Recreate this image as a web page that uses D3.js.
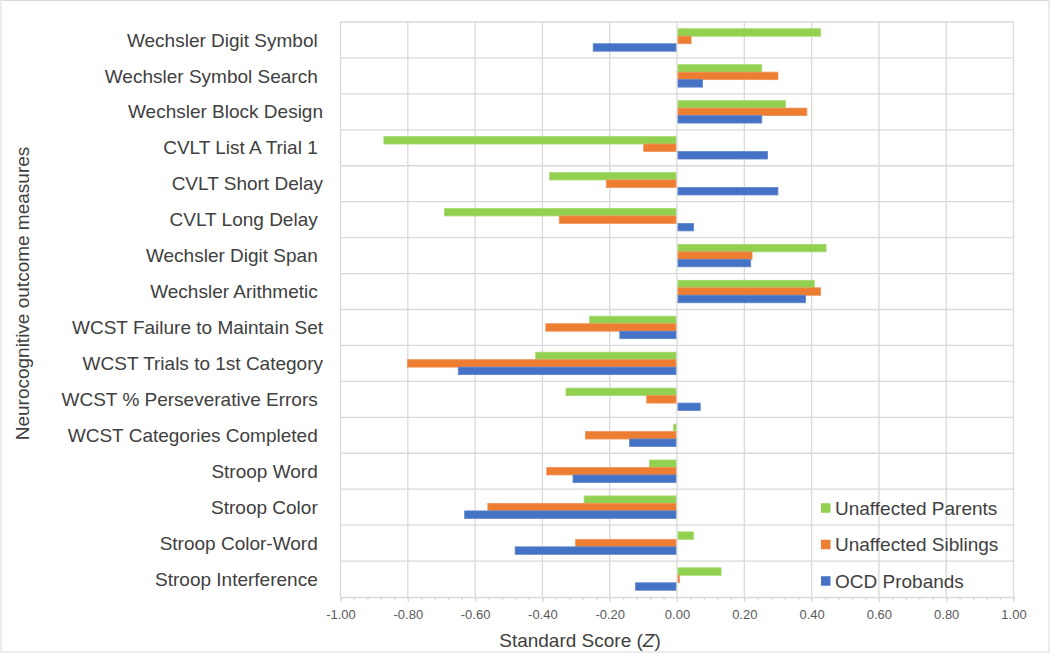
<!DOCTYPE html>
<html>
<head>
<meta charset="utf-8">
<script src="https://cdn.jsdelivr.net/npm/d3@7"></script>
<style>
  html, body { margin: 0; padding: 0; background: #fff; }
  svg { display: block; font-family: Arial, "Liberation Sans", sans-serif; }
  .cat { white-space: pre; }
</style>
</head>
<body>
<svg id="chart" width="1050" height="654"></svg>
<script>
// ---- data ----
const categories = [
  "Wechsler Digit Symbol ",
  "Wechsler Symbol Search ",
  "Wechsler Block Design",
  "CVLT List A Trial 1 ",
  "CVLT Short Delay",
  "CVLT Long Delay ",
  "Wechsler Digit Span ",
  "Wechsler Arithmetic ",
  "WCST Failure to Maintain Set",
  "WCST Trials to 1st Category",
  "WCST % Perseverative Errors ",
  "WCST Categories Completed ",
  "Stroop Word ",
  "Stroop Color ",
  "Stroop Color-Word ",
  "Stroop Interference "
];
const seriesNames = ["Unaffected Parents", "Unaffected Siblings", "OCD Probands"];
const parents  = [0.427, 0.252, 0.322, -0.871, -0.379, -0.691, 0.443, 0.408, -0.260, -0.420, -0.330, -0.010, -0.082, -0.276, 0.049, 0.131];
const siblings = [0.042, 0.300, 0.386, -0.099, -0.210, -0.350, 0.223, 0.427, -0.390, -0.801, -0.090, -0.272, -0.387, -0.562, -0.301, 0.007];
const probands = [-0.249, 0.076, 0.252, 0.269, 0.300, 0.049, 0.219, 0.382, -0.170, -0.650, 0.069, -0.141, -0.309, -0.631, -0.481, -0.123];
const xTicks = [-1, -0.8, -0.6, -0.4, -0.2, 0, 0.2, 0.4, 0.6, 0.8, 1];
const xTickLabels = ["-1.00", "-0.80", "-0.60", "-0.40", "-0.20", "0.00", "0.20", "0.40", "0.60", "0.80", "1.00"];
const seriesColors = ["#92D050", "#ED7D31", "#4472C4"];
const seriesStroke = ["#a6da70", "#f0925a", "#5f86cc"];

const seriesValues = [parents, siblings, probands];

// ---- layout ----
const svg = d3.select("#chart");
const plotLeft = 340.5, plotRight = 1013.5, plotTop = 22, plotBottom = 597;

svg.append("rect")
  .attr("x", 1).attr("y", 0.5).attr("width", 1048).attr("height", 651.5)
  .attr("fill", "#fff").attr("stroke", "#d9d9d9").attr("stroke-width", 1);

const x = d3.scaleLinear().domain([-1, 1]).range([plotLeft, plotRight]);
const y = d3.scaleBand().domain(categories).range([plotTop, plotBottom]).paddingInner(0).paddingOuter(0);
const ySub = d3.scaleBand().domain(seriesNames).range([0, y.bandwidth()]).paddingInner(0).paddingOuter(0.9);

const gridColor = "#d9d9d9";

// vertical gridlines
svg.append("g").selectAll("line").data(xTicks).join("line")
  .attr("x1", d => x(d)).attr("x2", d => x(d))
  .attr("y1", plotTop).attr("y2", plotBottom)
  .attr("stroke", gridColor).attr("stroke-width", 1.3);

// horizontal gridlines at category boundaries
const boundaries = categories.map(c => y(c));
svg.append("g").selectAll("line").data(boundaries).join("line")
  .attr("x1", plotLeft).attr("x2", plotRight)
  .attr("y1", d => d).attr("y2", d => d)
  .attr("stroke", gridColor).attr("stroke-width", 1.3);

// bars
const barsG = svg.append("g");
seriesNames.forEach((s, si) => {
  barsG.append("g").selectAll("rect").data(seriesValues[si]).join("rect")
    .attr("x", d => Math.min(x(0), x(d)) + (d >= 0 ? 1 : 0))
    .attr("width", d => Math.max(0.8, Math.abs(x(d) - x(0)) - 1))
    .attr("y", (d, i) => y(categories[i]) + ySub(s))
    .attr("height", ySub.bandwidth())
    .attr("fill", seriesColors[si])
    .attr("stroke", seriesStroke[si])
    .attr("stroke-width", 0.8);
});

// x axis (line + major + minor ticks)
const minorTicks = d3.range(0, 51).map(i => -1 + i * 0.04);
const axisG = svg.append("g").attr("transform", `translate(0,${plotBottom})`);
axisG.call(d3.axisBottom(x).tickValues(minorTicks).tickSize(3).tickFormat(""));
axisG.call(g => g.select(".domain").remove());
const axisMajor = svg.append("g").attr("transform", `translate(0,${plotBottom})`)
  .call(d3.axisBottom(x).tickValues(xTicks).tickSize(5).tickPadding(8)
        .tickFormat((d, i) => xTickLabels[i]));
svg.selectAll(".tick line").attr("stroke", gridColor).attr("stroke-width", 1.3);
axisMajor.select(".domain").attr("stroke", gridColor).attr("stroke-width", 1.3)
  .attr("d", `M${plotLeft},0.5H${plotRight}`);
axisMajor.selectAll(".tick text")
  .attr("font-size", 13).attr("fill", "#595959")
  .attr("font-family", "Arial, 'Liberation Sans', sans-serif");

// category labels
svg.append("g").selectAll("text").data(categories).join("text")
  .attr("class", "cat")
  .attr("x", 323).attr("y", d => y(d) + y.bandwidth() / 2)
  .attr("dy", "0.35em")
  .attr("text-anchor", "end")
  .attr("font-size", 19).attr("fill", "#404040")
  .text(d => d);

// axis titles
const xt = svg.append("text")
  .attr("x", 580).attr("y", 647).attr("text-anchor", "middle")
  .attr("font-size", 19).attr("fill", "#404040");
xt.append("tspan").text("Standard Score (");
xt.append("tspan").attr("font-style", "italic").text("Z");
xt.append("tspan").text(")");

svg.append("text")
  .attr("transform", "translate(29,293.5) rotate(-90)")
  .attr("text-anchor", "middle")
  .attr("font-size", 19).attr("fill", "#404040")
  .text("Neurocognitive outcome measures");

// legend
const legend = svg.append("g");
seriesNames.forEach((s, i) => {
  const cy = 508 + i * 36.5;
  legend.append("rect")
    .attr("x", 821).attr("y", cy - 4.75).attr("width", 9.5).attr("height", 9.5)
    .attr("fill", seriesColors[i]);
  legend.append("text")
    .attr("x", 835).attr("y", cy).attr("dy", "0.35em")
    .attr("font-size", 19).attr("fill", "#404040")
    .text(s);
});
</script>
</body>
</html>
